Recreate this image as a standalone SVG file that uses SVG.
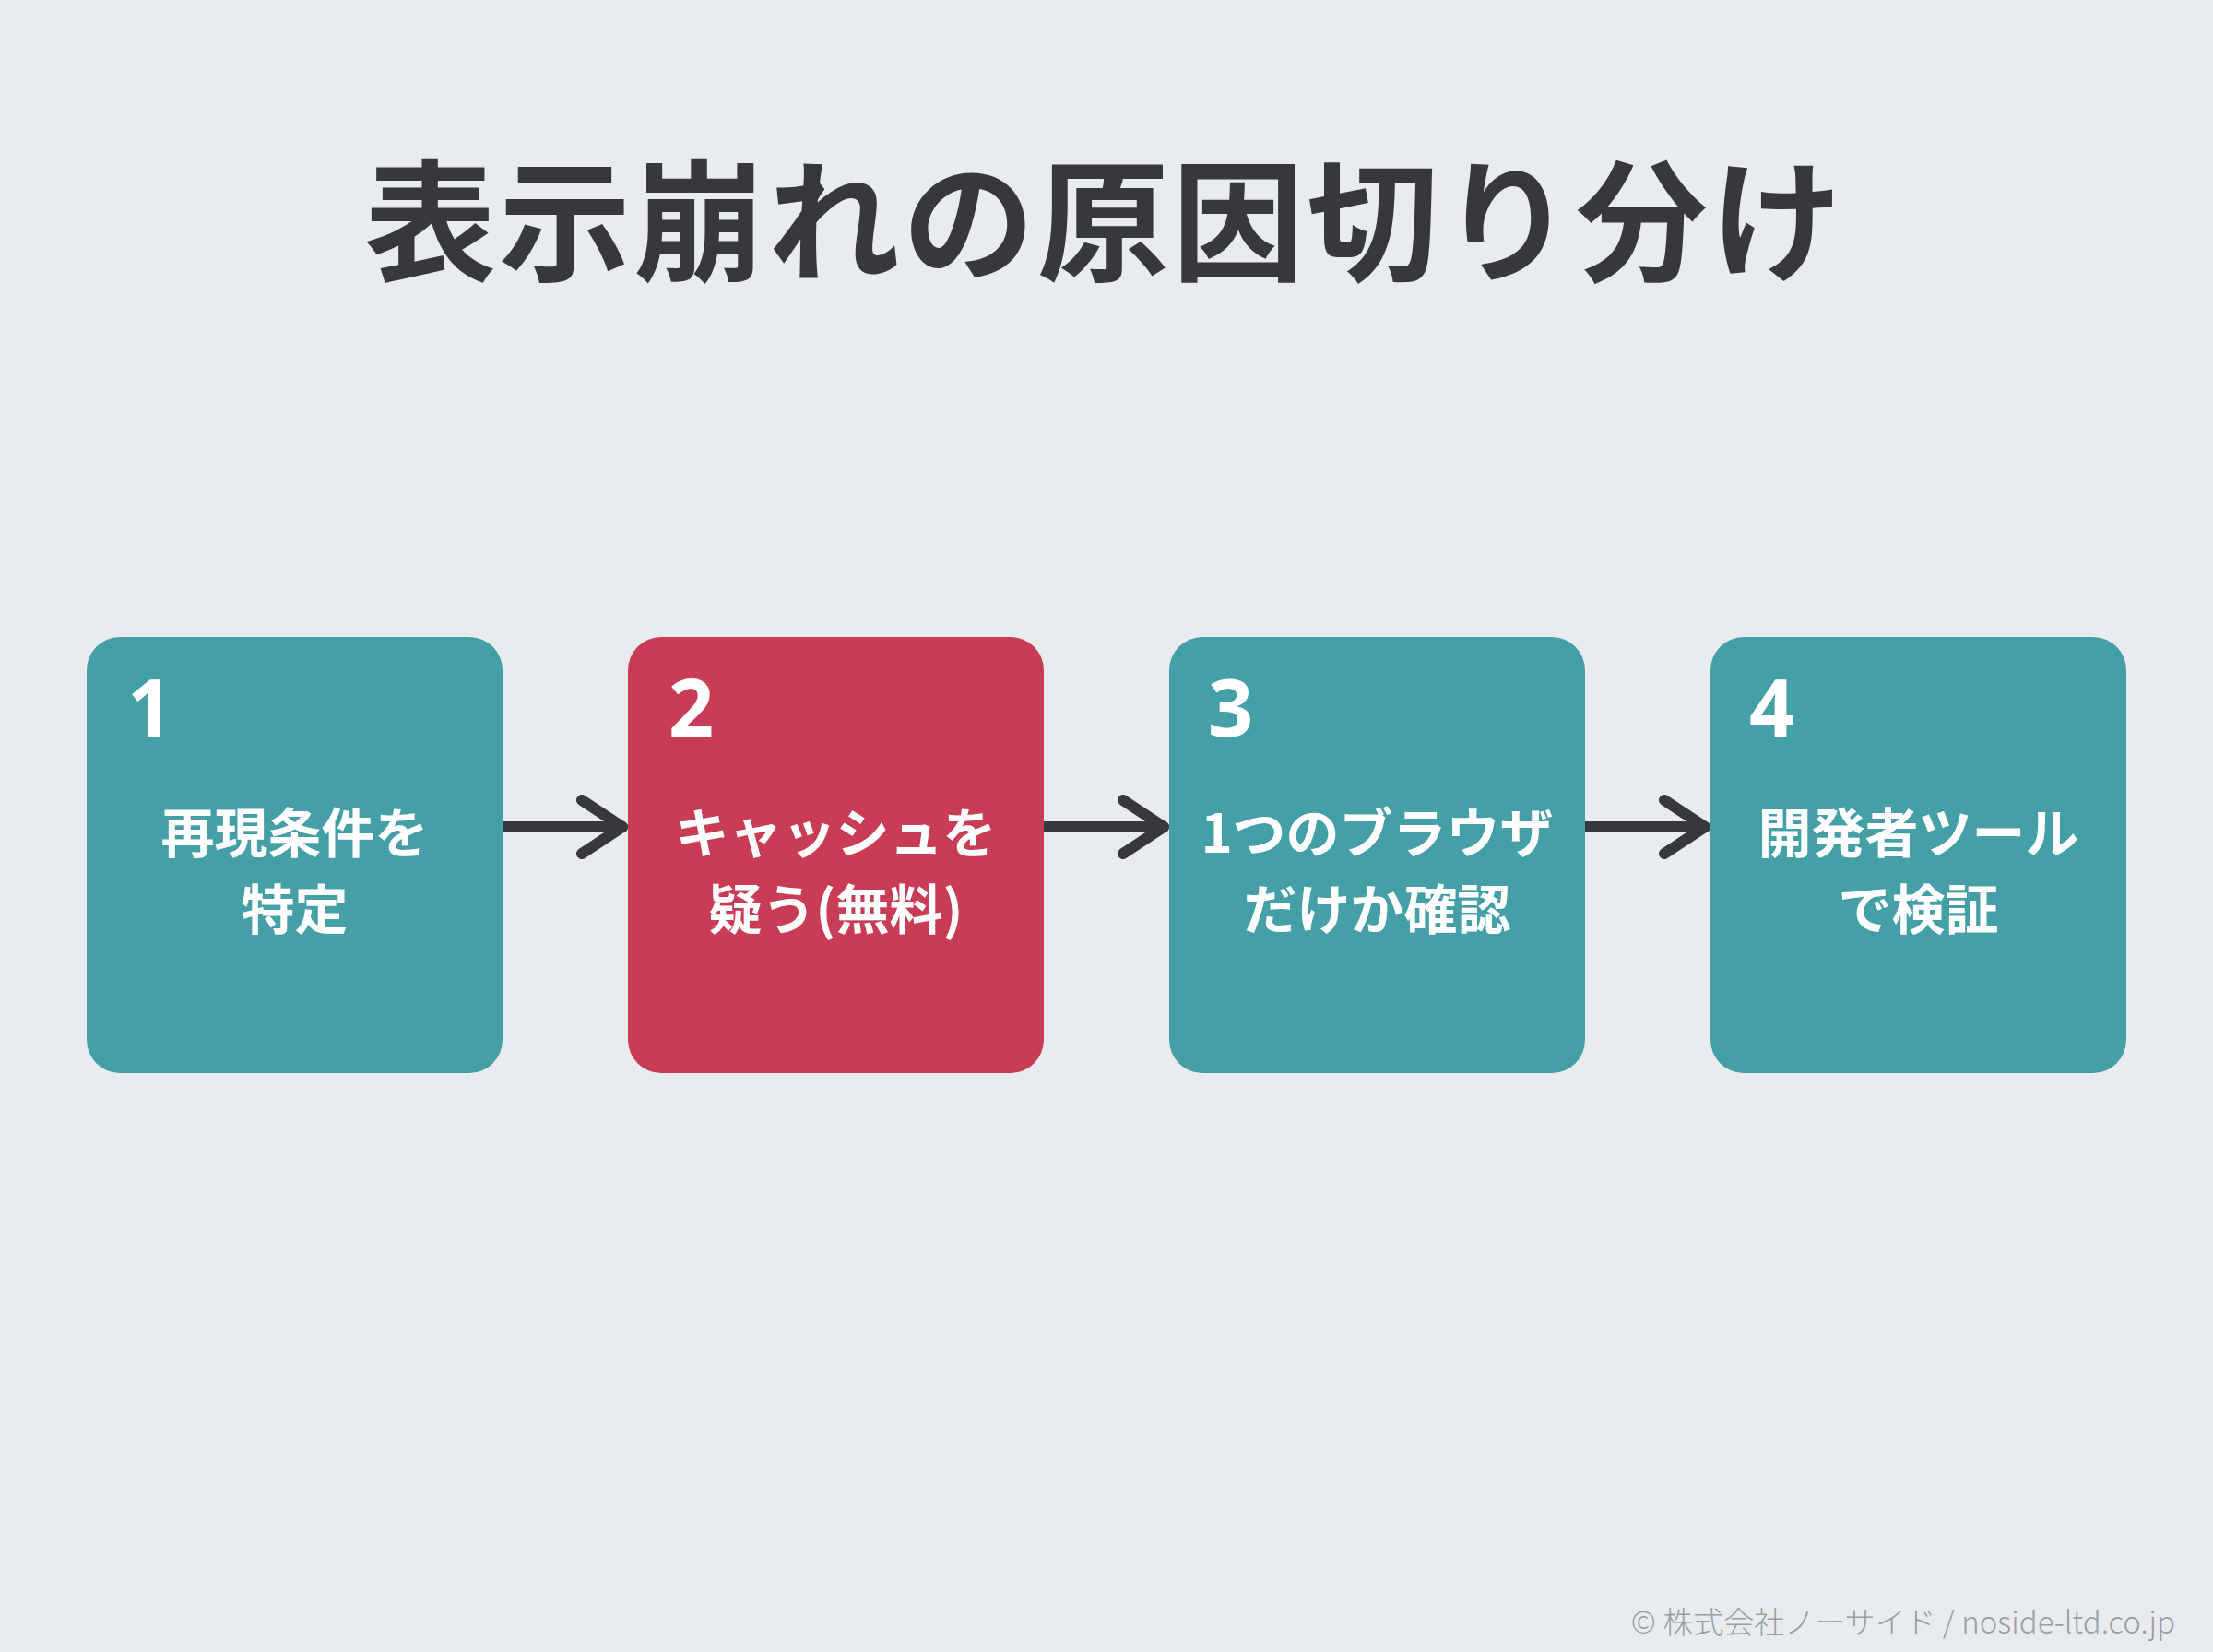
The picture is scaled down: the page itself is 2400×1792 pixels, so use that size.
<svg xmlns="http://www.w3.org/2000/svg" width="2400" height="1792" viewBox="0 0 2400 1792">
<defs>
<style>
.bg{fill:#e9ecee}
.teal{fill:#44a0a6}
.red{fill:#c93c55}
.title{font-family:"Noto Sans CJK JP","Noto Sans",sans-serif;font-weight:700;font-size:143px;fill:#36383b;text-anchor:middle;letter-spacing:3px}
.num{font-family:"Noto Sans","Liberation Sans",sans-serif;font-weight:700;font-size:86px;fill:#ffffff}
.lbl{font-family:"Noto Sans CJK JP","Noto Sans",sans-serif;font-weight:700;font-size:58px;fill:#ffffff;text-anchor:middle}
.conn{stroke:#36383b;stroke-width:12;fill:none;stroke-linecap:round;stroke-linejoin:round}
.foot{font-family:"Noto Sans CJK JP","Noto Sans",sans-serif;font-weight:300;font-size:33px;fill:#9a9c9f;text-anchor:end}
</style>
<marker id="chev" viewBox="0 0 60 70" refX="52" refY="35" markerWidth="60" markerHeight="70" markerUnits="userSpaceOnUse" orient="auto">
<path d="M8 6 L52 35 L8 64" fill="none" stroke="#36383b" stroke-width="12" stroke-linecap="round" stroke-linejoin="round"/>
</marker>
</defs>
<rect class="bg" x="0" y="0" width="2400" height="1792"/>
<text class="title" x="1198" y="294">表示崩れの原因切り分け</text>
<g id="connectors">
<line class="conn" x1="545" y1="897" x2="675" y2="897" marker-end="url(#chev)"/>
<line class="conn" x1="1132" y1="897" x2="1262" y2="897" marker-end="url(#chev)"/>
<line class="conn" x1="1719" y1="897" x2="1849" y2="897" marker-end="url(#chev)"/>
</g>
<g id="node1">
<rect class="teal" x="94" y="691" width="451" height="473" rx="36"/>
<text class="num" x="138" y="799">1</text>
<text class="lbl" x="319.5" y="925">再現条件を</text>
<text class="lbl" x="319.5" y="1008">特定</text>
</g>
<g id="node2">
<rect class="red" x="681" y="691" width="451" height="473" rx="36"/>
<text class="num" x="725" y="799">2</text>
<text class="lbl" x="906.5" y="925">キャッシュを</text>
<text class="lbl" x="906.5" y="1008">疑う(無料)</text>
</g>
<g id="node3">
<rect class="teal" x="1268" y="691" width="451" height="473" rx="36"/>
<text class="num" x="1310" y="799">3</text>
<text class="lbl" x="1493.5" y="925">1つのブラウザ</text>
<text class="lbl" x="1493.5" y="1008">だけか確認</text>
</g>
<g id="node4">
<rect class="teal" x="1855" y="691" width="451" height="473" rx="36"/>
<text class="num" x="1897" y="799">4</text>
<text class="lbl" x="2080.5" y="925">開発者ツール</text>
<text class="lbl" x="2080.5" y="1008">で検証</text>
</g>
<text class="foot" x="2359" y="1772">© 株式会社ノーサイド / noside-ltd.co.jp</text>
</svg>
